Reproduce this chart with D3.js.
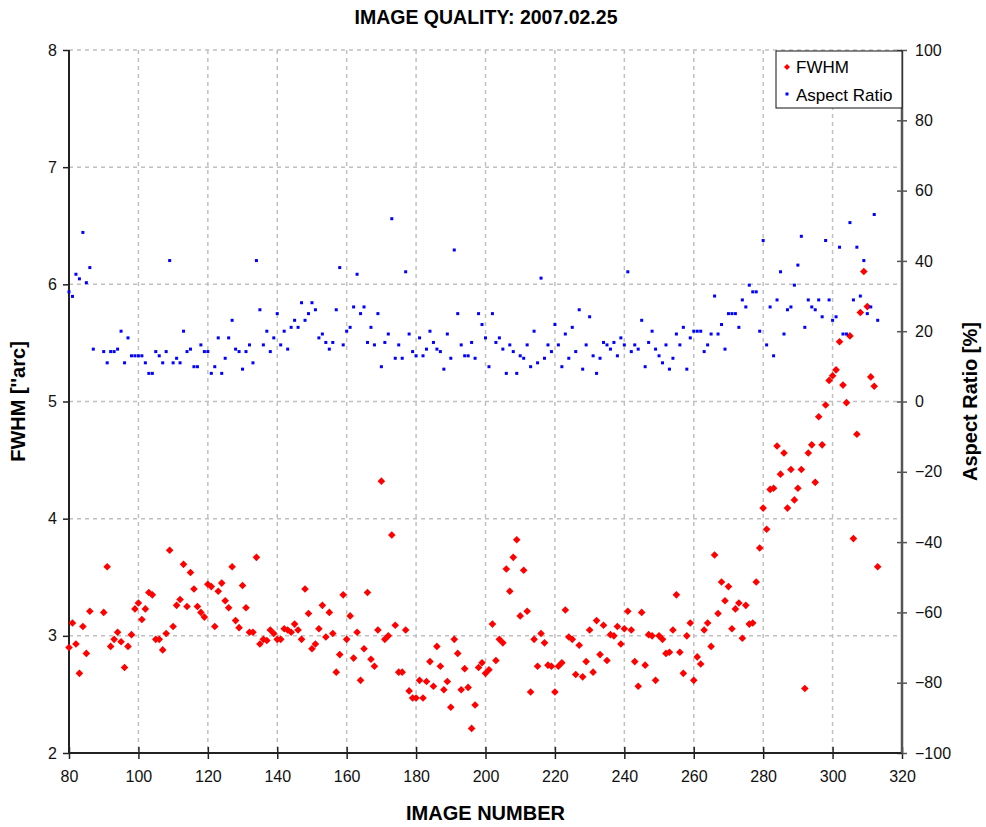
<!DOCTYPE html>
<html>
<head>
<meta charset="utf-8">
<script src="https://cdn.jsdelivr.net/npm/d3@7"></script>
<style>
  body { margin: 0; background: #fff; }
  text { font-family: "Liberation Sans", Arial, sans-serif; }
</style>
</head>
<body>
<div id="chart"></div>
<script>
// image numbers run from 80 to 313, null = no point
const firstImage = 80;

const fwhm = [
  2.90, 3.11, 2.93, 2.68, 3.08, 2.85, 3.21, null, null, null,
  3.20, 3.59, 2.91, 2.97, 3.03, 2.95, 2.73, 2.91, 3.01, 3.23,
  3.28, 3.14, 3.23, 3.37, 3.35, 2.97, 2.97, 2.88, 3.02, 3.73,
  3.08, 3.26, 3.31, 3.61, 3.25, 3.54, 3.40, 3.25, 3.20, 3.16,
  3.44, 3.42, 3.08, 3.38, 3.45, 3.30, 3.24, 3.59, 3.13, 3.07,
  3.43, 3.24, 3.03, 3.03, 3.67, 2.93, 2.97, 2.96, 3.05, 3.02,
  2.97, 2.97, 3.06, 3.05, 3.03, 3.10, 3.05, 2.97, 3.40, 3.19,
  2.89, 2.93, 3.06, 3.26, 2.99, 3.20, 3.02, 2.69, 2.84, 3.35,
  2.97, 3.17, 2.81, 3.03, 2.62, 2.89, 3.37, 2.80, 2.74, 3.05,
  4.32, 2.97, 3.00, 3.86, 3.09, 2.69, 2.69, 3.05, 2.53, 2.47,
  2.47, 2.62, 2.47, 2.61, 2.78, 2.57, 2.91, 2.74, 2.54, 2.61,
  2.39, 2.97, 2.85, 2.54, 2.72, 2.56, 2.21, 2.41, 2.73, 2.77,
  2.68, 2.71, 3.10, 2.79, 2.97, 2.94, 3.57, 3.38, 3.67, 3.82,
  3.17, 3.56, 3.21, 2.52, 2.97, 2.74, 3.02, 2.94, 2.75, 2.74,
  2.52, 2.74, 2.77, 3.22, 2.99, 2.97, 2.67, 2.92, 2.65, 2.78,
  3.05, 2.69, 3.13, 2.84, 3.09, 2.79, 3.01, 3.00, 3.08, 2.93,
  3.06, 3.21, 3.05, 2.78, 2.57, 3.20, 2.75, 3.01, 3.00, 2.62,
  3.00, 2.97, 2.85, 2.86, 3.05, 3.35, 2.86, 2.68, 3.00, 3.11,
  2.62, 2.82, 2.76, 3.05, 3.11, 2.91, 3.69, 3.19, 3.46, 3.30,
  3.42, 3.06, 3.23, 3.28, 2.98, 3.26, 3.10, 3.11, 3.46, 3.75,
  4.09, 3.91, 4.25, 4.26, 4.62, 4.38, 4.56, 4.09, 4.42, 4.16,
  4.26, 4.42, 2.55, 4.56, 4.63, 4.31, 4.87, 4.63, 4.97, 5.18,
  5.22, 5.27, 5.51, 5.14, 4.99, 5.56, 3.83, 4.72, 5.76, 6.11,
  5.81, 5.21, 5.13, 3.59
];

const aspect = [
  31.2, 29.9, 36.2, 34.9, 48.1, 33.8, 38.1, 14.9, null, null,
  14.2, 11.0, 14.2, 14.2, 14.9, 20.0, 11.0, 18.1, 13.0, 13.0,
  13.0, 13.0, 11.0, 8.0, 8.0, 14.2, 13.0, 11.0, 14.2, 40.1,
  11.0, 12.3, 11.0, 20.0, 14.2, 14.9, 9.9, 9.9, 16.1, 14.2,
  14.2, 8.0, 9.9, 18.1, 8.0, 12.3, 18.1, 23.1, 14.9, 14.2,
  9.2, 14.2, 16.1, 11.0, 40.1, 26.1, 16.1, 20.0, 14.2, 18.1,
  25.0, 16.1, 20.0, 14.9, 21.1, 23.1, 21.1, 28.1, 23.1, 25.0,
  28.1, 26.1, 18.1, 19.2, 16.8, 14.9, 16.8, 26.1, 38.1, 16.1,
  20.0, 21.1, 26.9, 36.2, 25.0, 26.9, 16.8, 21.1, 16.1, 25.0,
  9.9, 16.8, 19.2, 52.0, 12.3, 16.1, 12.3, 36.9, 19.2, 14.2,
  13.0, 18.1, 13.0, 14.9, 20.0, 16.8, 14.9, 14.2, 9.2, 19.2,
  12.3, 43.1, 25.0, 16.1, 13.0, 13.0, 16.8, 12.3, 25.0, 21.9,
  18.1, 9.9, 25.0, 16.8, 18.1, 14.9, 8.0, 16.1, 14.2, 8.0,
  13.0, 12.3, 16.1, 9.9, 20.0, 11.0, 35.1, 12.3, 16.1, 14.2,
  21.9, 16.1, 9.9, 19.2, 12.3, 21.1, 14.2, 26.1, 9.2, 16.1,
  24.1, 13.0, 8.0, 12.3, 16.8, 16.1, 14.9, 16.8, 13.0, 18.1,
  16.1, 36.9, 14.2, 16.1, 14.9, 23.1, 9.9, 16.8, 20.0, 14.9,
  13.0, 11.0, 16.1, 9.2, 12.3, 19.2, 16.1, 21.1, 9.2, 18.1,
  20.0, 20.0, 20.0, 14.2, 16.1, 19.2, 30.0, 19.2, 21.9, 14.9,
  25.0, 25.0, 25.0, 21.1, 28.9, 26.9, 33.1, 31.2, 31.2, 20.0,
  45.8, 16.1, 26.9, 13.0, 28.9, 36.9, 19.2, 26.1, 26.9, 33.1,
  38.8, 47.0, 21.1, 28.9, 26.9, 26.1, 28.9, 24.1, 45.8, 28.9,
  23.1, 24.1, 43.9, 19.2, 19.2, 50.9, 28.9, 43.9, 30.0, 40.1,
  25.0, 26.9, 53.2, 23.1
];

const xTicks = d3.range(80, 321, 20);
const yTicks = [2, 3, 4, 5, 6, 7, 8];
const y2Ticks = d3.range(-100, 101, 20);

const width = 986, height = 827;
const margin = {top: 50, right: 84, bottom: 74, left: 69};
const font = "Liberation Sans, Arial, sans-serif";

const svg = d3.select("#chart").append("svg")
    .attr("width", width)
    .attr("height", height)
    .style("background-color", "white");

const x = d3.scaleLinear().domain([80, 320]).range([margin.left, width - margin.right]);
const y = d3.scaleLinear().domain([2, 8]).range([height - margin.bottom, margin.top]);
const y2 = d3.scaleLinear().domain([-100, 100]).range([height - margin.bottom, margin.top]);

// grid
svg.append("g").selectAll("line")
    .data(xTicks.slice(1, -1))
    .enter().append("line")
    .attr("x1", d => x(d)).attr("x2", d => x(d))
    .attr("y1", margin.top).attr("y2", height - margin.bottom)
    .style("stroke", "#c0c0c0").style("stroke-width", 1.5)
    .style("stroke-dasharray", "4,4");

svg.append("g").selectAll("line")
    .data(yTicks.slice(1))
    .enter().append("line")
    .attr("x1", margin.left).attr("x2", width - margin.right)
    .attr("y1", d => y(d)).attr("y2", d => y(d))
    .style("stroke", "#c0c0c0").style("stroke-width", 1.5)
    .style("stroke-dasharray", "4,4");

// axes
const xAxis = svg.append("g")
    .attr("transform", `translate(0,${height - margin.bottom})`)
    .call(d3.axisBottom(x).tickValues(xTicks).tickSize(6).tickPadding(12).tickFormat(d3.format("d")));
const yAxis = svg.append("g")
    .attr("transform", `translate(${margin.left},0)`)
    .call(d3.axisLeft(y).tickValues(yTicks).tickSize(6).tickPadding(6).tickFormat(d3.format("d")));
const y2Axis = svg.append("g")
    .attr("transform", `translate(${width - margin.right},0)`)
    .call(d3.axisRight(y2).tickValues(y2Ticks).tickSize(5).tickPadding(8).tickFormat(d3.format("d")));

[xAxis, yAxis, y2Axis].forEach(a => {
    a.select(".domain").remove();
    a.selectAll("text").style("font-family", font).style("font-size", "16px").style("fill", "#111");
    a.selectAll("line").style("stroke", "#222").style("stroke-width", 1.5);
});
// crossing tick marks
xAxis.selectAll(".tick line").attr("y1", -6);
y2Axis.selectAll(".tick line").attr("x1", -5).style("stroke", "#555");

svg.append("line")
    .attr("x1", margin.left).attr("x2", width - margin.right)
    .attr("y1", height - margin.bottom).attr("y2", height - margin.bottom)
    .style("stroke", "#222").style("stroke-width", 2);
svg.append("line")
    .attr("x1", margin.left).attr("x2", margin.left)
    .attr("y1", margin.top).attr("y2", height - margin.bottom)
    .style("stroke", "#222").style("stroke-width", 2);
svg.append("line")
    .attr("x1", width - margin.right).attr("x2", width - margin.right)
    .attr("y1", margin.top).attr("y2", height - margin.bottom)
    .style("stroke", "#555").style("stroke-width", 2.5);

// points
const fwhmPts = fwhm.map((v, i) => ({n: firstImage + i, v})).filter(d => d.v !== null);
const aspectPts = aspect.map((v, i) => ({n: firstImage + i, v})).filter(d => d.v !== null);

const diamond = "M0,-3.8L3.8,0L0,3.8L-3.8,0Z";

svg.append("g").selectAll("path")
    .data(fwhmPts)
    .enter().append("path")
    .attr("d", diamond)
    .attr("transform", d => `translate(${x(d.n)},${y(d.v)})`)
    .style("fill", "#ff0000");

svg.append("g").selectAll("rect")
    .data(aspectPts)
    .enter().append("rect")
    .attr("x", d => x(d.n) - 1.5)
    .attr("y", d => y2(d.v) - 1.5)
    .attr("width", 3).attr("height", 3)
    .style("fill", "#0000ff");

// titles
svg.append("text")
    .attr("x", 486).attr("y", 24)
    .attr("text-anchor", "middle")
    .style("font-size", "19.5px").style("font-weight", "bold")
    .text("IMAGE QUALITY: 2007.02.25");

svg.append("text")
    .attr("x", x(200)).attr("y", 820)
    .attr("text-anchor", "middle")
    .style("font-size", "20px").style("font-weight", "bold")
    .text("IMAGE NUMBER");

svg.append("text")
    .attr("transform", `translate(25,${y(5)}) rotate(-90)`)
    .attr("text-anchor", "middle")
    .style("font-size", "20px").style("font-weight", "bold")
    .text("FWHM [''arc]");

svg.append("text")
    .attr("transform", `translate(977,${y(5)}) rotate(-90)`)
    .attr("text-anchor", "middle")
    .style("font-size", "20px").style("font-weight", "bold")
    .text("Aspect Ratio [%]");

// legend
const legend = svg.append("g").attr("transform", `translate(776,51)`);
legend.append("rect")
    .attr("width", 126).attr("height", 57)
    .style("fill", "white").style("stroke", "#111").style("stroke-width", 1);
legend.append("path")
    .attr("d", diamond)
    .attr("transform", "translate(11,16) scale(0.8)")
    .style("fill", "#ff0000");
legend.append("rect")
    .attr("x", 9.5).attr("y", 41.5).attr("width", 3).attr("height", 3)
    .style("fill", "#0000ff");
legend.append("text").attr("x", 20).attr("y", 22)
    .style("font-size", "17px").text("FWHM");
legend.append("text").attr("x", 20).attr("y", 50)
    .style("font-size", "17px").text("Aspect Ratio");
</script>
</body>
</html>
